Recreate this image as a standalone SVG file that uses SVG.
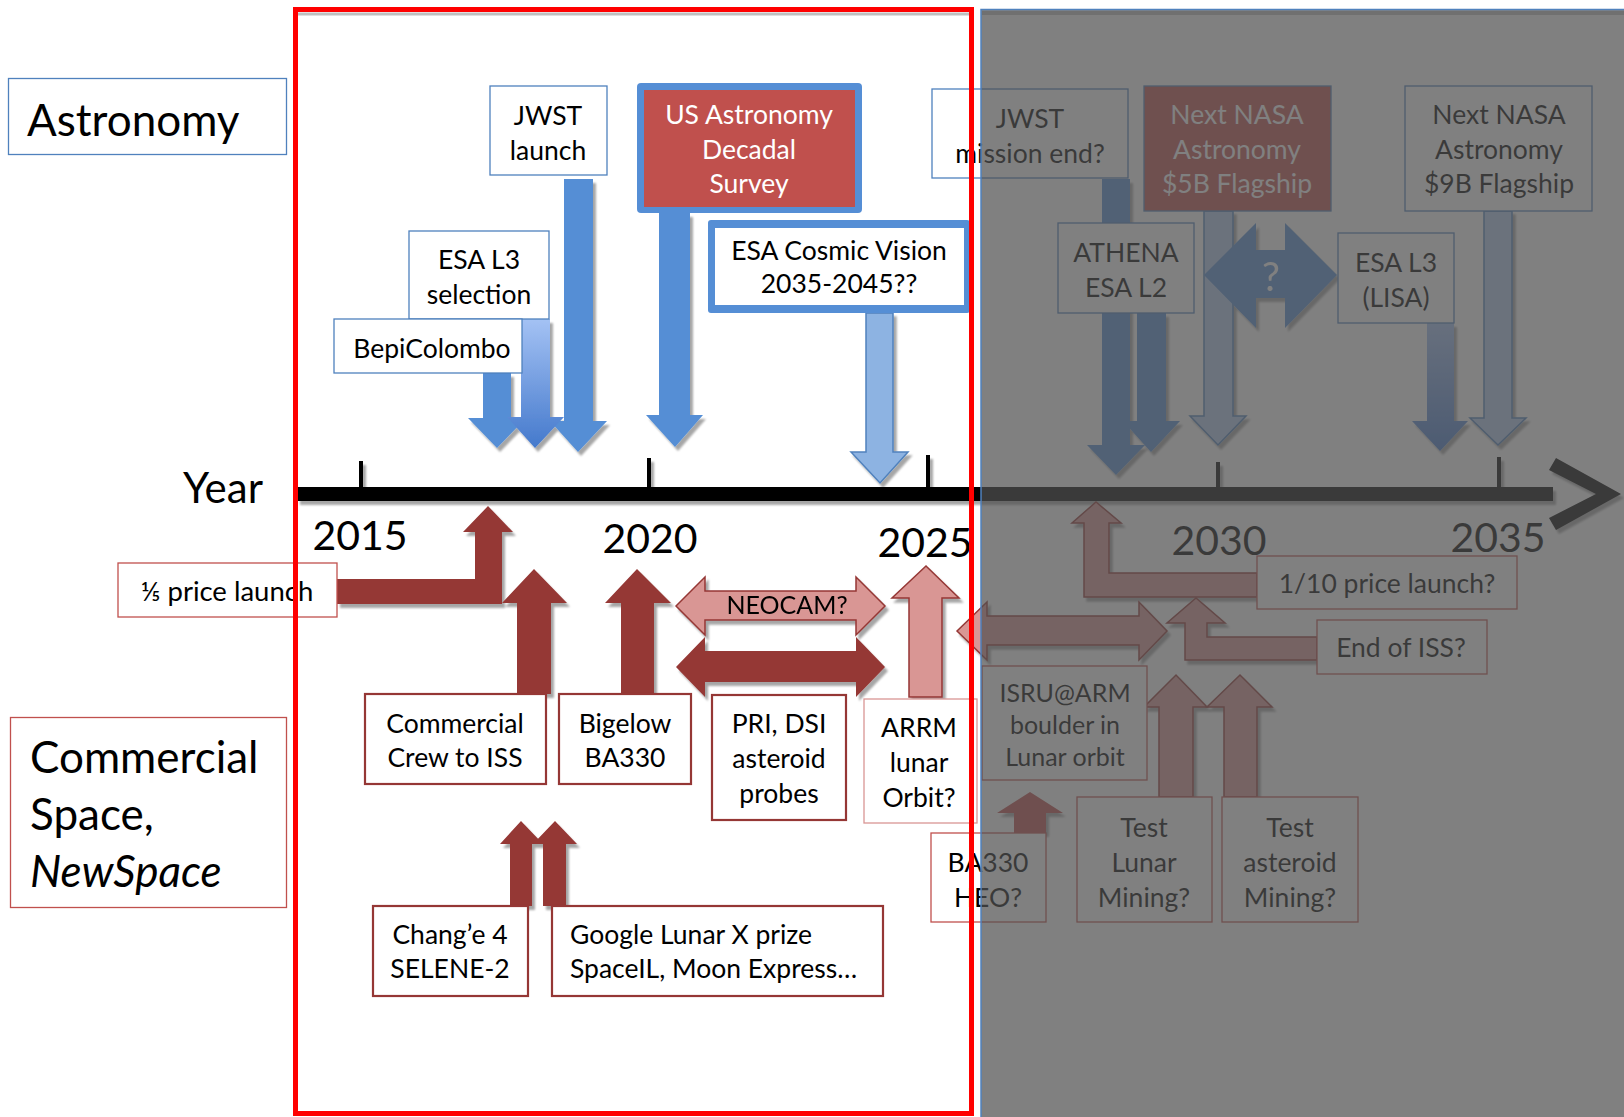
<svg xmlns="http://www.w3.org/2000/svg" width="1624" height="1117" viewBox="0 0 1624 1117">
<style>
text{font-family:Lato,"Liberation Sans","DejaVu Sans",sans-serif;fill:#000}
.lbl{font-size:26.5px;text-anchor:middle}
.lft{font-size:26.5px;text-anchor:start}
.big{font-size:44px}
.yr{font-size:41px;text-anchor:middle}
.bb{fill:#fff;stroke:#4F81BD;stroke-width:1.3}
.rb{fill:#fff;stroke:#953735;stroke-width:2.2}
.rt{fill:#fff;stroke:#C0504D;stroke-width:1.3}
.ab{fill:#558ED5}
.al{fill:#B3CCF0;stroke:#4F81BD;stroke-width:1.5}
.ad{fill:#953735}
.ap{fill:#D99694;stroke:#953735;stroke-width:1.5}
.wt{fill:#fff}
</style>
<defs>
<filter id="sh" x="-20%" y="-20%" width="140%" height="140%">
<feOffset in="SourceAlpha" dx="2.5" dy="3.5" result="o"/>
<feGaussianBlur in="o" stdDeviation="0.8" result="b"/>
<feComponentTransfer in="b" result="s"><feFuncA type="linear" slope="0.35"/></feComponentTransfer>
<feMerge><feMergeNode in="s"/><feMergeNode in="SourceGraphic"/></feMerge>
</filter>
<linearGradient id="gl" x1="0" y1="0" x2="0" y2="1">
<stop offset="0" stop-color="#A4C2F4"/>
<stop offset="1" stop-color="#4479CC"/>
</linearGradient>
</defs>
<rect width="1624" height="1117" fill="#fff"/>

<g id="timeline" filter="url(#sh)">
<rect x="297" y="487" width="1256" height="14" fill="#000"/>
<rect x="359" y="461" width="4" height="28" fill="#000"/>
<rect x="647" y="458" width="4" height="31" fill="#000"/>
<rect x="926" y="455" width="4" height="34" fill="#000"/>
<rect x="1216" y="462" width="4" height="27" fill="#000"/>
<rect x="1497" y="457" width="4" height="32" fill="#000"/>
<polygon points="1556,458 1621,494 1556,530 1549,518 1596,494 1549,470" fill="#000"/>
</g>
<g id="year-labels">
<text x="183" y="503" style="font-size:42px">Year</text>
<text class="yr" x="360" y="550">2015</text>
<text class="yr" x="650" y="553">2020</text>
<text class="yr" x="925" y="557">2025</text>
<text class="yr" x="1219" y="555">2030</text>
<text class="yr" x="1498" y="552">2035</text>
</g>

<g id="connectors" filter="url(#sh)">
<polygon class="ab" points="564,179 593,179 593,421 607,421 578,452 550,421 564,421"/>
<polygon class="ab" points="483,373 511,373 511,418 526,418 497,448 468,418 483,418"/>
<polygon fill="url(#gl)" points="521,319 550,319 550,417 564,417 535,448 507,417 521,417"/>
<polygon class="ab" points="659,213 690,213 690,415 703,415 675,447 646,415 659,415"/>
<polygon fill="#8DB3E2" stroke="#4F81BD" stroke-width="1.5" points="866,313 893,313 893,452 908,452 880,483 851,452 866,452"/>
<polygon class="ab" points="1102,179 1130,179 1130,445 1145,445 1116,475 1087,445 1102,445"/>
<polygon class="ab" points="1137,313 1166,313 1166,421 1180,421 1151,452 1123,421 1137,421"/>
<polygon class="al" points="1204,211 1233,211 1233,416 1246,416 1218,445 1190,416 1204,416"/>
<polygon fill="url(#gl)" points="1427,323 1454,323 1454,421 1468,421 1440,451 1412,421 1427,421"/>
<polygon class="al" points="1484,211 1512,211 1512,418 1526,418 1498,445 1470,418 1484,418"/>
<polygon class="ab" points="1204,275 1256,223 1256,250 1285,250 1285,223 1337,275 1285,328 1285,298 1256,298 1256,328"/>
<text x="1271" y="291" style="font-size:40px;text-anchor:middle;fill:#fff">?</text>

<polygon class="ad" points="337,579 475,579 475,532 463,532 488,506 513,532 502,532 502,604 337,604"/>
<polygon class="ad" points="517,694 517,603 502,603 534,569 567,603 551,603 551,694"/>
<polygon class="ad" points="621,694 621,603 605,603 637,569 671,603 654,603 654,694"/>
<polygon class="ap" points="676,606 705,577 705,591 856,591 856,577 885,606 856,635 856,620 705,620 705,635"/>
<text x="787" y="614" style="font-size:25px;text-anchor:middle">NEOCAM?</text>
<polygon class="ad" points="676,667 705,637 705,651 856,651 856,637 885,667 856,697 856,682 705,682 705,697"/>
<polygon class="ap" points="909,697 909,598 892,598 926,566 959,598 942,598 942,697"/>
<polygon class="ad" points="510,906 510,844 500,844 521,821 543,844 532,844 532,906"/>
<polygon class="ad" points="543,906 543,844 533,844 555,821 577,844 566,844 566,906"/>
<polygon class="ap" points="1257,573 1109,573 1109,523 1121,523 1096,502 1072,523 1084,523 1084,597 1257,597"/>
<polygon class="ap" points="1317,637 1207,637 1207,623 1225,623 1196,598 1167,623 1185,623 1185,660 1317,660"/>
<polygon class="ap" points="957,631 987,602 987,616 1139,616 1139,602 1167,631 1139,660 1139,645 987,645 987,660"/>
<polygon class="ap" points="1159,797 1159,707 1144,707 1176,675 1207,707 1193,707 1193,797"/>
<polygon class="ap" points="1224,797 1224,707 1207,707 1240,675 1272,707 1257,707 1257,797"/>
<polygon fill="#C0504D" points="1014,833 1014,813 997,813 1030,792 1063,813 1046,813 1046,833"/>
</g>

<g id="astronomy-label"><rect class="bb" x="8.5" y="78.5" width="278" height="76"/><text class="big" x="27" y="136">Astronomy</text></g>
<g id="commercial-label"><rect class="rt" x="10.5" y="717.5" width="276" height="190"/>
<text class="big" x="30" y="773">Commercial</text><text class="big" x="30" y="830">Space,</text><text class="big" x="30" y="887" font-style="italic">NewSpace</text></g>

<g id="jwst-launch"><rect class="bb" x="490" y="86" width="117" height="89" stroke="#8DB3E2"/><text class="lbl" x="548" y="125">JWST</text><text class="lbl" x="548" y="160">launch</text></g>
<g id="decadal"><rect x="637" y="83" width="225" height="130" rx="4" fill="#558ED5"/><rect x="644" y="90" width="211" height="117" fill="#C0504D"/>
<text class="lbl wt" x="749" y="124">US Astronomy</text><text class="lbl wt" x="749" y="159">Decadal</text><text class="lbl wt" x="749" y="193">Survey</text></g>
<g id="esa-cv"><rect x="708" y="220" width="262" height="93" rx="3" fill="#558ED5"/><rect x="715" y="228" width="249" height="77" fill="#fff"/>
<text class="lbl" x="839" y="260">ESA Cosmic Vision</text><text class="lbl" x="839" y="293">2035-2045??</text></g>
<g id="esa-l3-sel"><rect class="bb" x="409" y="231" width="140" height="88"/><text class="lbl" x="479" y="269">ESA L3</text><text class="lbl" x="479" y="304">selection</text></g>
<g id="bepi"><rect class="bb" x="334" y="319" width="188" height="54" stroke="#2F5597"/><text class="lbl" x="432" y="358">BepiColombo</text></g>
<g id="jwst-end"><rect class="bb" x="932" y="89" width="196" height="89"/><text class="lbl" x="1030" y="128">JWST</text><text class="lbl" x="1030" y="163">mission end?</text></g>
<g id="athena"><rect class="bb" x="1058" y="223" width="136" height="90"/><text class="lbl" x="1126" y="262">ATHENA</text><text class="lbl" x="1126" y="297">ESA L2</text></g>
<g id="nasa-5b"><rect x="1144" y="86" width="187" height="125" fill="#C0504D" stroke="#4F81BD" stroke-width="1.3"/>
<text class="lbl wt" x="1237" y="124">Next NASA</text><text class="lbl wt" x="1237" y="159">Astronomy</text><text class="lbl wt" x="1237" y="193">$5B Flagship</text></g>
<g id="lisa"><rect class="bb" x="1338" y="233" width="116" height="90"/><text class="lbl" x="1396" y="272">ESA L3</text><text class="lbl" x="1396" y="307">(LISA)</text></g>
<g id="nasa-9b"><rect class="bb" x="1405" y="86" width="187" height="125"/>
<text class="lbl" x="1499" y="124">Next NASA</text><text class="lbl" x="1499" y="159">Astronomy</text><text class="lbl" x="1499" y="193">$9B Flagship</text></g>

<g id="price-fifth"><rect class="rt" x="118" y="563" width="219" height="54"/><text class="lbl" x="227" y="601" style="font-size:27.5px">⅕ price launch</text></g>
<g id="commercial-crew"><rect class="rb" x="365" y="694" width="181" height="90"/><text class="lbl" x="455" y="733">Commercial</text><text class="lbl" x="455" y="767">Crew to ISS</text></g>
<g id="bigelow"><rect class="rb" x="559" y="694" width="132" height="90"/><text class="lbl" x="625" y="733">Bigelow</text><text class="lbl" x="625" y="767">BA330</text></g>
<g id="pri-dsi"><rect class="rb" x="712" y="695" width="134" height="125"/><text class="lbl" x="779" y="733">PRI, DSI</text><text class="lbl" x="779" y="768">asteroid</text><text class="lbl" x="779" y="803">probes</text></g>
<g id="arrm"><rect x="864" y="699" width="113" height="124" fill="#fff" stroke="#D99694" stroke-width="1.3"/><text class="lbl" x="919" y="737">ARRM</text><text class="lbl" x="919" y="772">lunar</text><text class="lbl" x="919" y="807">Orbit?</text></g>
<g id="change4"><rect class="rb" x="373" y="906" width="155" height="90"/><text class="lbl" x="450" y="944">Chang’e 4</text><text class="lbl" x="450" y="978">SELENE-2</text></g>
<g id="glxp"><rect class="rb" x="552" y="906" width="331" height="90"/><text class="lft" x="570" y="944">Google Lunar X prize</text><text class="lft" x="570" y="978">SpaceIL, Moon Express…</text></g>
<g id="price-tenth"><rect class="rt" x="1257" y="556" width="260" height="53"/><text class="lbl" x="1387" y="593">1/10 price launch?</text></g>
<g id="end-iss"><rect class="rt" x="1317" y="620" width="170" height="54"/><text class="lbl" x="1401" y="657">End of ISS?</text></g>
<g id="isru"><rect class="rt" x="982" y="666" width="165" height="114"/><text class="lbl" x="1065" y="702" style="font-size:25px">ISRU@ARM</text><text class="lbl" x="1065" y="734" style="font-size:25px">boulder in</text><text class="lbl" x="1065" y="766" style="font-size:25px">Lunar orbit</text></g>
<g id="test-lunar"><rect class="rt" x="1077" y="797" width="135" height="125"/><text class="lbl" x="1144" y="837">Test</text><text class="lbl" x="1144" y="872">Lunar</text><text class="lbl" x="1144" y="907">Mining?</text></g>
<g id="test-asteroid"><rect class="rt" x="1222" y="797" width="136" height="125"/><text class="lbl" x="1290" y="837">Test</text><text class="lbl" x="1290" y="872">asteroid</text><text class="lbl" x="1290" y="907">Mining?</text></g>
<g id="ba330-heo"><rect class="rt" x="931" y="833" width="115" height="89"/><text class="lbl" x="988" y="872">BA330</text><text class="lbl" x="988" y="907">HEO?</text></g>

<g id="future-overlay">
<rect x="981" y="9.5" width="643" height="1108" fill="#505050" fill-opacity="0.725"/>
<rect x="982" y="11" width="642" height="4" fill="#000" fill-opacity="0.12"/>
<path d="M981,1117 V9.5 H1624" fill="none" stroke="#4F81BD" stroke-width="1.5"/>
</g>
<g id="focus-frame">
<path d="M298,14 H969" stroke="#000" stroke-opacity="0.25" stroke-width="3"/>
<rect x="295.5" y="9.5" width="676" height="1104" fill="none" stroke="#FF0000" stroke-width="5"/>
</g>
</svg>
